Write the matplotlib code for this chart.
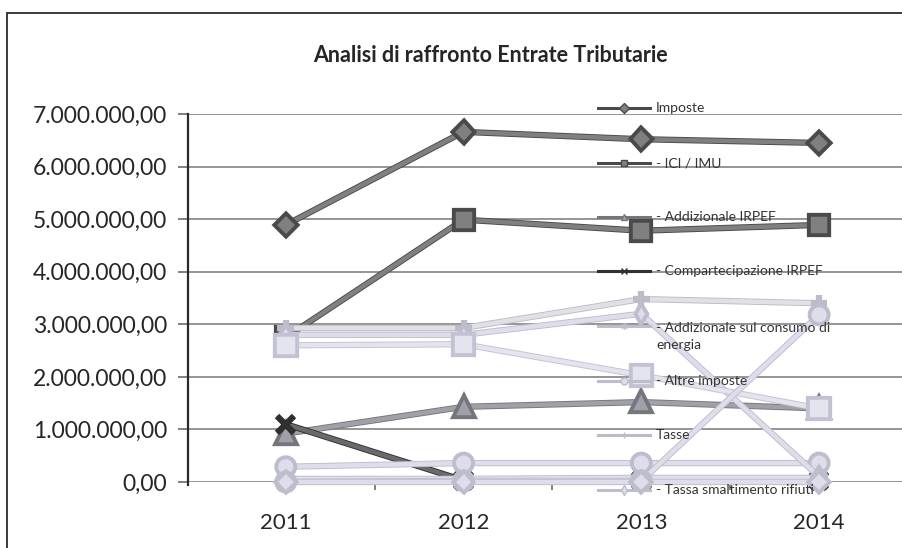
"""
Line chart of tax revenue items, 2011-2014, styled like an office chart.
"""
import matplotlib
matplotlib.use("agg")
import matplotlib.pyplot as plt
import matplotlib.patheffects as pe
from matplotlib.lines import Line2D
from matplotlib.patches import Rectangle
from matplotlib.ticker import FuncFormatter, FixedLocator

plt.rcParams["font.family"] = ["Lato", "DejaVu Sans"]

anni = ["2011", "2012", "2013", "2014"]

imposte = [4890000, 6660000, 6520000, 6450000]
ici_imu = [2750000, 4990000, 4780000, 4890000]
add_irpef = [920000, 1430000, 1520000, 1400000]
comp_irpef = [1100000, 30000, 30000, 30000]
add_energia = [60000, 60000, 80000, 80000]
altre_imposte = [290000, 360000, 360000, 360000]
tasse = [2930000, 2930000, 3480000, 3400000]
tassa_rifiuti = [2800000, 2800000, 3200000, 100000]
# further series whose legend rows fall below the chart frame
serie_9 = [2600000, 2620000, 2030000, 1400000]
serie_10 = [0, 20000, 20000, 3180000]
serie_11 = [0, 0, 0, 0]

DARK = "#808080"
DARK_EDGE = "#4a4a4a"
LIGHT = "#dedeea"
LIGHT_EDGE = "#bdbdcd"

# label, values, marker, marker size, face, edge, in legend
SERIES = [
    ("Imposte", imposte, "D", 10, DARK, DARK_EDGE, True),
    ("- ICI / IMU", ici_imu, "s", 13, DARK, DARK_EDGE, True),
    ("- Addizionale IRPEF", add_irpef, "^", 13, "#a0a0a8", "#75757d", True),
    ("- Compartecipazione IRPEF", comp_irpef, "x", 12, "#6a6a6a", "#303030", True),
    ("- Addizionale sul consumo di\nenergia", add_energia, (6, 2, 0), 13,
     LIGHT, LIGHT_EDGE, True),
    ("- Altre imposte", altre_imposte, "o", 12, LIGHT, LIGHT_EDGE, True),
    ("Tasse", tasse, "+", 12, "#e0e0e6", "#bcbcc6", True),
    ("- Tassa smaltimento rifiuti", tassa_rifiuti, "d", 8, LIGHT, LIGHT_EDGE, True),
    ("", serie_9, "s", 14, "#e4e4ee", "#c2c2d2", False),
    ("", serie_10, "o", 12, LIGHT, LIGHT_EDGE, False),
    ("", serie_11, "D", 9, LIGHT, LIGHT_EDGE, False),
]

W, H = 903, 548


def fx(px):
    return px / W


def fy(py):
    return 1 - py / H


def it_format(v, pos):
    s = "{:,.2f}".format(v)
    return s.replace(",", "X").replace(".", ",").replace("X", ".")


fig = plt.figure(figsize=(W / 100, H / 100), dpi=100)
fig.patch.set_facecolor("white")

# chart frame (right and bottom sides run past the edges)
fig.add_artist(Rectangle((fx(7), fy(560)), fx(920) - fx(7), fy(13) - fy(560),
                         transform=fig.transFigure, fill=False,
                         edgecolor="#3a3a3a", linewidth=1.4))

ax = fig.add_axes([fx(188), fy(482), fx(908) - fx(188), fy(114) - fy(482)])
ax.set_xlim(-0.55, 3.5)
ax.set_ylim(0, 7000000)

ax.yaxis.set_major_locator(FixedLocator(range(0, 7000001, 1000000)))
ax.yaxis.set_major_formatter(FuncFormatter(it_format))
ax.grid(axis="y", color="#8c8c8c", linewidth=1.3)
ax.set_axisbelow(True)

ax.set_xticks(range(len(anni)))
ax.set_xticklabels(anni)
ax.set_xticks([0.5, 1.5, 2.5], minor=True)
ax.tick_params(axis="x", which="major", length=0, pad=22, labelsize=16,
               labelcolor="#262626")
ax.tick_params(axis="x", which="minor", length=6, width=1.2, color="#6a6a6a",
               direction="out")
ax.tick_params(axis="y", length=7, width=1.2, color="#6a6a6a", pad=8,
               labelsize=16.5, labelcolor="#262626")

for side in ("top", "right", "bottom"):
    ax.spines[side].set_visible(False)
ax.spines["left"].set_color("#2a2a2a")
ax.spines["left"].set_linewidth(1.6)
ax.spines["left"].set_bounds(-60000, 7000000)

x = list(range(len(anni)))
for label, vals, mk, ms, face, edge, _ in SERIES:
    ax.plot(x, vals, color=face, linewidth=3.2, marker=mk, markersize=ms,
            markerfacecolor=face, markeredgecolor=edge, markeredgewidth=1.1,
            solid_joinstyle="round", clip_on=False,
            path_effects=[pe.Stroke(linewidth=4.5, foreground=edge),
                          pe.Normal()])

fig.text(fx(490), fy(55), "Analisi di raffronto Entrate Tributarie",
         ha="center", va="center", fontsize=15.5, fontweight="bold",
         color="#262626")

# legend rows laid over the plot area
rows = [108, 163, 217, 271, 326, 381, 435, 490]
legend_series = [s for s in SERIES if s[6]]
for row, (label, vals, mk, ms, face, edge, _) in zip(rows, legend_series):
    fig.add_artist(Line2D([fx(598), fx(650)], [fy(row), fy(row)],
                          transform=fig.transFigure, color=edge,
                          linewidth=2.2, marker=None))
    fig.add_artist(Line2D([fx(624)], [fy(row)], transform=fig.transFigure,
                          linestyle="none", marker=mk, markersize=5,
                          markerfacecolor=face, markeredgecolor=edge))
    if "\n" in label:
        fig.text(fx(656), fy(row + 10.5), label, ha="left", va="center",
                 fontsize=10, color="#333333", linespacing=1.55)
    else:
        fig.text(fx(656), fy(row), label, ha="left", va="center",
                 fontsize=10, color="#333333")

fig.savefig("out.png", dpi=100)
